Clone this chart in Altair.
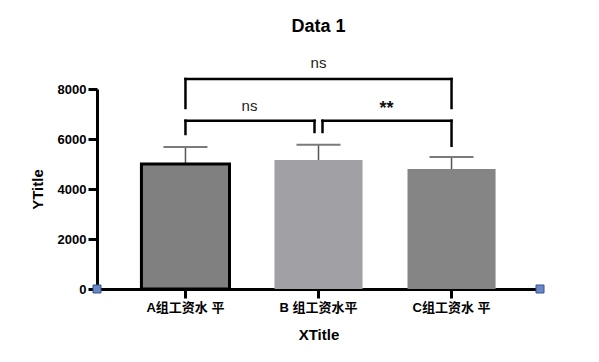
import altair as alt
import pandas as pd

# ---- data ----
categories = ["A组工资水 平", "B 组工资水平", "C组工资水 平"]
means = [5000, 5160, 4800]
errors = [680, 610, 480]
fills = ["#808080", "#a1a0a5", "#858585"]
outlines = ["#000000", "transparent", "transparent"]
y_ticks = [0, 2000, 4000, 6000, 8000]

# significance brackets
cmp_left = [categories[0], categories[0], categories[1]]
cmp_right = [categories[2], categories[1], categories[2]]
cmp_level = [8400, 6730, 6730]
cmp_label = ["ns", "ns", "**"]
leg_left_end = [7240, 6200, 6280]
leg_right_end = [7240, 6280, 5730]

FONT = "Liberation Sans, Arial, Noto Sans CJK SC"

df = pd.DataFrame({"cat": categories, "mean": means, "err": errors})
df["top"] = df["mean"] + df["err"]

W, H = 443, 200

xscale = alt.Scale(domain=categories, paddingInner=0.338, paddingOuter=0.334)
yscale = alt.Scale(domain=[0, 8000], nice=False)

x_enc = alt.X("cat:N", scale=xscale, sort=categories,
              axis=alt.Axis(title="XTitle", labelAngle=0))
y_enc = alt.Y("mean:Q", scale=yscale,
              axis=alt.Axis(title="YTitle", values=y_ticks, format="d"))

base = alt.Chart(df)

err_line = base.mark_rule(color="#555555", strokeWidth=1.5).encode(
    x=x_enc, y=y_enc, y2="top:Q")
err_cap = base.mark_rule(color="#7a7a7a", strokeWidth=2, xOffset=-22, x2Offset=22).encode(
    x=x_enc, x2="cat:N", y="top:Q")

bars = base.mark_bar(strokeWidth=3).encode(
    x=x_enc, y=y_enc,
    color=alt.Color("cat:N", scale=alt.Scale(domain=categories, range=fills), legend=None),
    stroke=alt.Stroke("cat:N", scale=alt.Scale(domain=categories, range=outlines), legend=None),
)

# bracket tables
horiz = pd.DataFrame({"a": cmp_left, "b": cmp_right, "lvl": cmp_level, "lab": cmp_label})
legs_l = pd.DataFrame({"c": cmp_left, "lvl": cmp_level, "end": leg_left_end})
legs_r = pd.DataFrame({"c": cmp_right, "lvl": cmp_level, "end": leg_right_end})

rule_kw = dict(color="black", strokeWidth=2.5, strokeCap="square")

def hx():
    return alt.X("a:N", scale=xscale, sort=categories)

def yl():
    return alt.Y("lvl:Q", scale=yscale)

h_top = alt.Chart(horiz.iloc[[0]]).mark_rule(**rule_kw).encode(x=hx(), x2="b:N", y=yl())
h_ab = alt.Chart(horiz.iloc[[1]]).mark_rule(x2Offset=-4, **rule_kw).encode(x=hx(), x2="b:N", y=yl())
h_bc = alt.Chart(horiz.iloc[[2]]).mark_rule(xOffset=4, **rule_kw).encode(x=hx(), x2="b:N", y=yl())

leg_outer = pd.concat([legs_l.iloc[[0, 1]], legs_r.iloc[[0, 2]]])
leg_b_left = legs_r.iloc[[1]]
leg_b_right = legs_l.iloc[[2]]

def cx():
    return alt.X("c:N", scale=xscale, sort=categories)

legs_main = alt.Chart(leg_outer).mark_rule(**rule_kw).encode(x=cx(), y=yl(), y2="end:Q")
legs_bl = alt.Chart(leg_b_left).mark_rule(xOffset=-4, **rule_kw).encode(x=cx(), y=yl(), y2="end:Q")
legs_br = alt.Chart(leg_b_right).mark_rule(xOffset=4, **rule_kw).encode(x=cx(), y=yl(), y2="end:Q")

top_lab_df = pd.DataFrame({"c": [categories[1]], "lvl": [cmp_level[0]], "lab": [cmp_label[0]]})
lab_top = alt.Chart(top_lab_df).mark_text(
    font=FONT, fontSize=15, color="#222222", dy=-16).encode(x=cx(), y=yl(), text="lab:N")
lab_ab = alt.Chart(horiz.iloc[[1]]).mark_text(
    font=FONT, fontSize=15, color="#222222", dy=-15, dx=64).encode(x=hx(), y=yl(), text="lab:N")
lab_bc = alt.Chart(horiz.iloc[[2]]).mark_text(
    font=FONT, fontSize=18, fontWeight="bold", color="#111111", dy=-12, dx=68).encode(
    x=hx(), y=yl(), text="lab:N")

sq_kw = dict(size=64, fill="#6a87c4", stroke="#34538f", strokeWidth=1, opacity=1)
corner_l = alt.Chart(alt.Data(values=[{"p": 0}])).mark_square(**sq_kw).encode(
    x=alt.value(0), y=alt.value(H))
corner_r = alt.Chart(alt.Data(values=[{"p": 1}])).mark_square(**sq_kw).encode(
    x=alt.value(W), y=alt.value(H))

chart = alt.layer(
    err_line, err_cap, bars,
    h_top, h_ab, h_bc, legs_main, legs_bl, legs_br,
    lab_top, lab_ab, lab_bc, corner_l, corner_r,
).properties(
    width=W, height=H,
    title=alt.TitleParams("Data 1", font=FONT, fontSize=18, fontWeight="bold",
                          color="#000000", anchor="middle", offset=20),
    autosize=alt.AutoSizeParams(type="none"),
    padding={"left": 89, "top": 81, "right": 50, "bottom": 60},
).configure_view(stroke=None).configure_axis(
    grid=False,
    domainColor="black", domainWidth=3,
    tickColor="black", tickWidth=3, tickSize=9,
    labelFont=FONT, labelFontSize=13, labelFontWeight="bold", labelColor="black",
    titleFont=FONT, titleFontSize=15, titleFontWeight="bold", titleColor="black",
).configure_axisX(labelPadding=3, titlePadding=13
).configure_axisY(labelPadding=2, titlePadding=12)

chart.save("out.html", embed_options={"renderer": "svg", "actions": False})
